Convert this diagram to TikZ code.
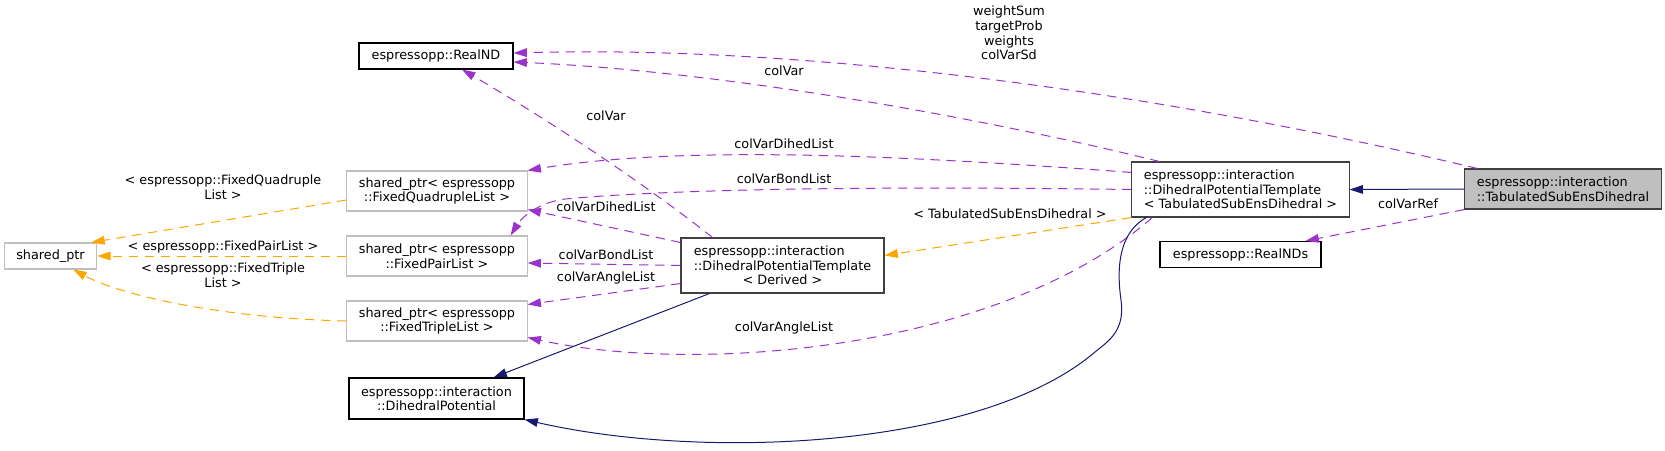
\documentclass[tikz,border=0pt]{standalone}
\usepackage{fontspec}
\setmainfont{DejaVu Sans}
\usetikzlibrary{arrows.meta,calc}
\definecolor{orchid}{HTML}{9A32CD}
\definecolor{tmplorange}{HTML}{FFA500}
\definecolor{midnight}{HTML}{191970}
\definecolor{grey75}{HTML}{BFBFBF}
\newcommand{\dfont}{\fontsize{9.6}{10.9}\selectfont}
\begin{document}
\begin{tikzpicture}[x=0.75pt,y=-0.75pt,
  cls/.style={draw=black,line width=0.8pt,font=\dfont,inner xsep=9pt,inner ysep=2pt,minimum height=19.5pt},
  undoc/.style={cls,draw=grey75},
  tmplcls/.style={cls,draw=black!75,minimum height=41.25pt,align=left},
  lbl/.style={font=\dfont,align=center,inner sep=0pt},
  uses/.style={draw=orchid,line width=0.75pt,dash pattern=on 7pt off 5pt,-{Triangle[length=10pt,width=6.5pt]}},
  tmpl/.style={uses,draw=tmplorange},
  inh/.style={draw=midnight,line width=0.75pt,-{Triangle[length=10pt,width=6.5pt]}}]
\useasboundingbox (0,0) rectangle (1665,450);
\node[cls,minimum width=115.5pt] (rnd) at (436,56) {espressopp::RealND};
\node[undoc,minimum width=135pt,minimum height=30pt,align=center] (quad) at (437,191) {shared\_ptr< espressopp\\::FixedQuadrupleList >};
\node[undoc,minimum width=135pt,minimum height=30pt,align=center] (pair) at (437,256) {shared\_ptr< espressopp\\::FixedPairList >};
\node[undoc,minimum width=135pt,minimum height=30pt,align=center] (triple) at (437,321) {shared\_ptr< espressopp\\::FixedTripleList >};
\node[undoc,minimum width=68.25pt] (sptr) at (50.5,256) {shared\_ptr};
\node[cls,minimum width=131.25pt,minimum height=30.75pt,align=center] (dpot) at (436.5,398.5) {espressopp::interaction\\::DihedralPotential};
\node[tmplcls,minimum width=152.25pt] (dptd) at (782.5,265.5) {espressopp::interaction\\::DihedralPotentialTemplate\\\mbox{}\hfill< Derived >\hfill\mbox{}};
\node[tmplcls,minimum width=162.75pt] (dptt) at (1240.5,189.5) {espressopp::interaction\\::DihedralPotentialTemplate\\< TabulatedSubEnsDihedral >};
\node[cls,draw=black!75,fill=grey75,minimum width=147pt,minimum height=30pt,align=left] (tab) at (1563,189) {espressopp::interaction\\::TabulatedSubEnsDihedral};
\node[cls,minimum width=120.75pt] (rnds) at (1240.5,254.5) {espressopp::RealNDs};

\draw[uses] ($(tab.north west)+(13,0)$) .. controls (1150,90) and (800,45) .. ($(rnd.east)+(0,-3)$);
\draw[uses] ($(dptt.north west)+(28,0)$) .. controls (950,110) and (700,70) .. ($(rnd.east)+(0,6)$);
\draw[uses] ($(dptd.north west)+(32,0)$) .. controls (640,180) and (540,115) .. ($(rnd.south)+(26,0)$);
\draw[uses] ($(dptt.north west)+(0,11)$) .. controls (900,155) and (680,145) .. (quad.north east);
\draw[uses] (dptt.west) .. controls (800,185) and (640,192) .. (565,199) .. controls (535,203) and (520,220) .. ($(pair.north east)+(-17,0)$);
\draw[uses] ($(dptd.north west)+(0,5)$) -- ($(quad.south east)+(0,-2)$);
\draw[uses] (dptd.west) -- ($(pair.east)+(0,7)$);
\draw[uses] ($(dptd.south west)+(0,-10)$) -- ($(triple.north east)+(0,4)$);
\draw[uses] ($(dptt.south west)+(21,0)$) .. controls (1000,350) and (700,375) .. ($(triple.south east)+(0,-4)$);
\draw[uses] (tab.south west) -- ($(rnds.north east)+(-16,0)$);
\draw[inh] ($(dptd.south west)+(29,0)$) -- ($(dpot.north east)+(-31,0)$);
\draw[inh] ($(dptt.south west)+(15,0)$) .. controls (1120,232) and (1116,265) .. (1121,300) .. controls (1125,330) and (1110,340) .. (1095,352) .. controls (980,450) and (700,460) .. (dpot.south east);
\draw[inh] (tab.west) -- (dptt.east);
\draw[tmpl] (dptt.south west) -- ($(dptd.east)+(0,-10)$);
\draw[tmpl] ($(quad.west)+(0,9)$) -- ($(sptr.north east)+(-6,0)$);
\draw[tmpl] (pair.west) -- (sptr.east);
\draw[tmpl] (triple.west) .. controls (220,318) and (120,295) .. ($(sptr.south east)+(-24,0)$);

\node[lbl] (lweights) at (1009,33) {weightSum\\targetProb\\weights\\colVarSd};
\foreach \p/\n/\t in {{784,71}/lvartt/colVar, {606,116}/lvartd/colVar,
  {784,144}/ldihedtt/colVarDihedList, {784,179}/lbondtt/colVarBondList,
  {606,207}/ldihedtd/colVarDihedList, {606,255}/lbondtd/colVarBondList,
  {606,278}/langletd/colVarAngleList, {784,328}/langlett/colVarAngleList,
  {1408,204}/lref/colVarRef}
  \node[lbl] (\n) at (\p) {\t};
\node[lbl] (ltab) at (1010,214) {< TabulatedSubEnsDihedral >};
\node[lbl] (lquad) at (223,187) {< espressopp::FixedQuadruple\\List >};
\node[lbl] (lpair) at (223,247) {< espressopp::FixedPairList >};
\node[lbl] (ltriple) at (223,275) {< espressopp::FixedTriple\\List >};
\end{tikzpicture}
\end{document}
